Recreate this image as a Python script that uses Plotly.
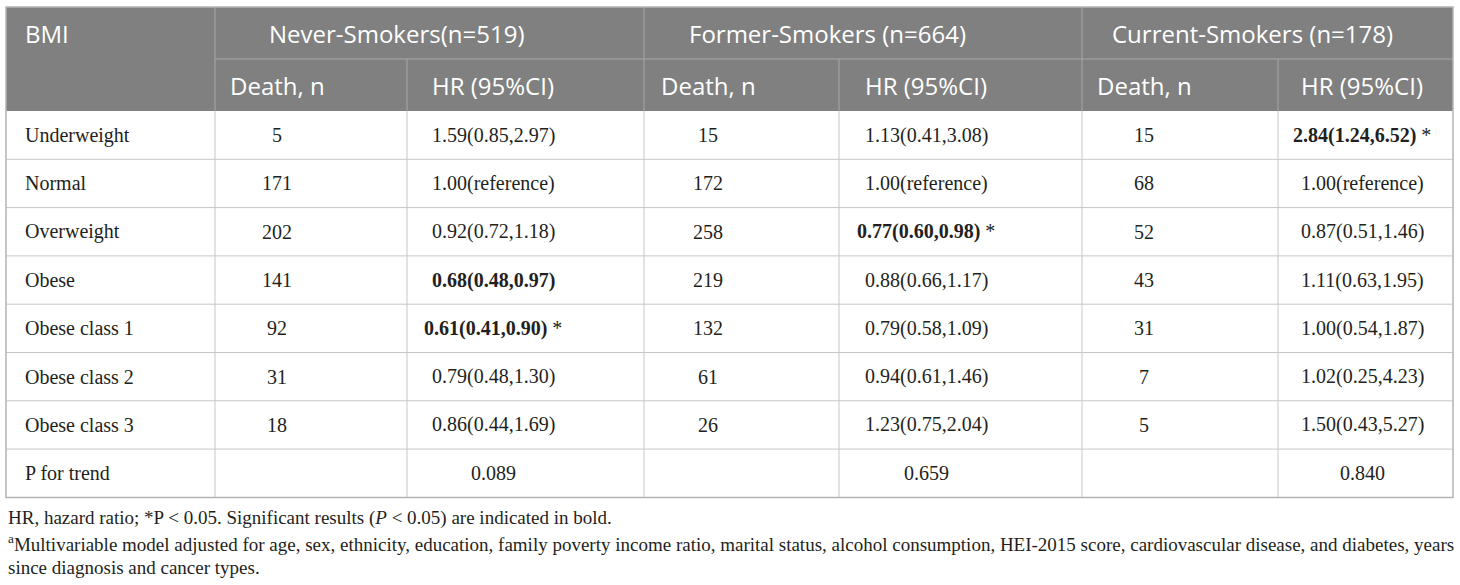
import plotly.graph_objects as go

# ---------------- data ----------------
categories = ["Underweight", "Normal", "Overweight", "Obese", "Obese class 1",
              "Obese class 2", "Obese class 3", "P for trend"]
group_titles = ["Never-Smokers(n=519)", "Former-Smokers (n=664)", "Current-Smokers (n=178)"]
sub_titles = ["Death, n", "HR (95%CI)"]
row_header = "BMI"

never_death = [5, 171, 202, 141, 92, 31, 18, None]
never_hr = ["1.59(0.85,2.97)", "1.00(reference)", "0.92(0.72,1.18)", "0.68(0.48,0.97)",
            "0.61(0.41,0.90)", "0.79(0.48,1.30)", "0.86(0.44,1.69)", "0.089"]
never_bold = [False, False, False, True, True, False, False, False]
never_star = [False, False, False, False, True, False, False, False]

former_death = [15, 172, 258, 219, 132, 61, 26, None]
former_hr = ["1.13(0.41,3.08)", "1.00(reference)", "0.77(0.60,0.98)", "0.88(0.66,1.17)",
             "0.79(0.58,1.09)", "0.94(0.61,1.46)", "1.23(0.75,2.04)", "0.659"]
former_bold = [False, False, True, False, False, False, False, False]
former_star = [False, False, True, False, False, False, False, False]

current_death = [15, 68, 52, 43, 31, 7, 5, None]
current_hr = ["2.84(1.24,6.52)", "1.00(reference)", "0.87(0.51,1.46)", "1.11(0.63,1.95)",
              "1.00(0.54,1.87)", "1.02(0.25,4.23)", "1.50(0.43,5.27)", "0.840"]
current_bold = [True, False, False, False, False, False, False, False]
current_star = [True, False, False, False, False, False, False, False]

footnotes = [
    "HR, hazard ratio; *P < 0.05. Significant results (<i>P</i> < 0.05) are indicated in bold.",
    "<sup>a</sup>Multivariable model adjusted for age, sex, ethnicity, education, family poverty income ratio, "
    "marital status, alcohol consumption, HEI-2015 score, cardiovascular disease, and diabetes, years",
    "since diagnosis and cancer types.",
]

groups = [
    (never_death, never_hr, never_bold, never_star),
    (former_death, former_hr, former_bold, former_star),
    (current_death, current_hr, current_bold, current_star),
]

# ---------------- layout constants ----------------
W, H = 1460, 585
X0, X1 = 6, 1453
Y_TOP, Y_MID, Y_HDR = 7, 59, 111
ROW_H = 48.3
col_edges = [215, 407, 644, 839, 1082, 1278]      # inner vertical lines
group_edges = [215, 644, 1082, 1453]
group_centers = [396, 827, 1252]
death_centers = [277, 708, 1144]
hr_centers = [493, 926, 1362]
BMI_X = 23
FOOT_Y = [518, 543, 567]

HEADER_BG = "#808080"
HEADER_LINE = "#a8a8a8"
BODY_LINE = "#c6c6c6"
TEXT = "#231f20"
SANS = "Open Sans"
SERIF = "Liberation Serif"
HDR_SIZE = 24
BODY_SIZE = 20
FOOT_SIZE = 19

fig = go.Figure()
shapes = []
ann = []

n_rows = len(categories)
Y_BOT = Y_HDR + n_rows * ROW_H

# header background
shapes.append(dict(type="rect", x0=X0, x1=X1, y0=Y_TOP, y1=Y_HDR,
                   fillcolor=HEADER_BG, line=dict(width=0), layer="below"))
# header lines
shapes.append(dict(type="line", x0=215, x1=X1, y0=Y_MID, y1=Y_MID,
                   line=dict(color=HEADER_LINE, width=1)))
for x in group_edges[:-1]:
    shapes.append(dict(type="line", x0=x, x1=x, y0=Y_TOP, y1=Y_HDR,
                       line=dict(color=HEADER_LINE, width=1)))
for x in [407, 839, 1278]:
    shapes.append(dict(type="line", x0=x, x1=x, y0=Y_MID, y1=Y_HDR,
                       line=dict(color=HEADER_LINE, width=1)))
# body lines
for i in range(1, n_rows):
    y = Y_HDR + i * ROW_H
    shapes.append(dict(type="line", x0=X0, x1=X1, y0=y, y1=y,
                       line=dict(color=BODY_LINE, width=1)))
for x in col_edges:
    shapes.append(dict(type="line", x0=x, x1=x, y0=Y_HDR, y1=Y_BOT,
                       line=dict(color=BODY_LINE, width=1)))
# outer border
shapes.append(dict(type="rect", x0=X0, x1=X1, y0=Y_TOP, y1=Y_BOT,
                   line=dict(color="#b4b4b4", width=1.5), fillcolor="rgba(0,0,0,0)"))

def add_text(x, y, text, font, size, color, anchor="center"):
    ann.append(dict(x=x, y=y, xref="x", yref="y", text=text, showarrow=False,
                    xanchor=anchor, yanchor="middle",
                    font=dict(family=font, size=size, color=color)))

# header texts
add_text(BMI_X, (Y_TOP + Y_MID) / 2, row_header, SANS, HDR_SIZE, "white", "left")
for g, title in enumerate(group_titles):
    add_text(group_centers[g], (Y_TOP + Y_MID) / 2, title, SANS, HDR_SIZE, "white")
    add_text(death_centers[g], (Y_MID + Y_HDR) / 2, sub_titles[0], SANS, HDR_SIZE, "white")
    add_text(hr_centers[g], (Y_MID + Y_HDR) / 2, sub_titles[1], SANS, HDR_SIZE, "white")

# body
for i, cat in enumerate(categories):
    yc = Y_HDR + (i + 0.5) * ROW_H
    add_text(BMI_X, yc, cat, SERIF, BODY_SIZE, TEXT, "left")
    for g, (deaths, hrs, bolds, stars) in enumerate(groups):
        if deaths[i] is not None:
            add_text(death_centers[g], yc, str(deaths[i]), SERIF, BODY_SIZE, TEXT)
        t = hrs[i]
        if bolds[i]:
            t = "<b>" + t + "</b>"
        if stars[i]:
            t = t + " *"
        add_text(hr_centers[g], yc, t, SERIF, BODY_SIZE, TEXT)

# footnotes
for line, y in zip(footnotes, FOOT_Y):
    add_text(X0, y, line, SERIF, FOOT_SIZE, TEXT, "left")

fig.update_layout(
    width=W, height=H,
    margin=dict(l=0, r=0, t=0, b=0),
    paper_bgcolor="white", plot_bgcolor="white",
    xaxis=dict(range=[0, W], visible=False, fixedrange=True),
    yaxis=dict(range=[H, 0], visible=False, fixedrange=True),
    shapes=shapes, annotations=ann, showlegend=False,
)
fig.write_html("out.html", config={"displayModeBar": False},
               post_script="document.body.style.margin='0';document.body.style.overflow='hidden';")
